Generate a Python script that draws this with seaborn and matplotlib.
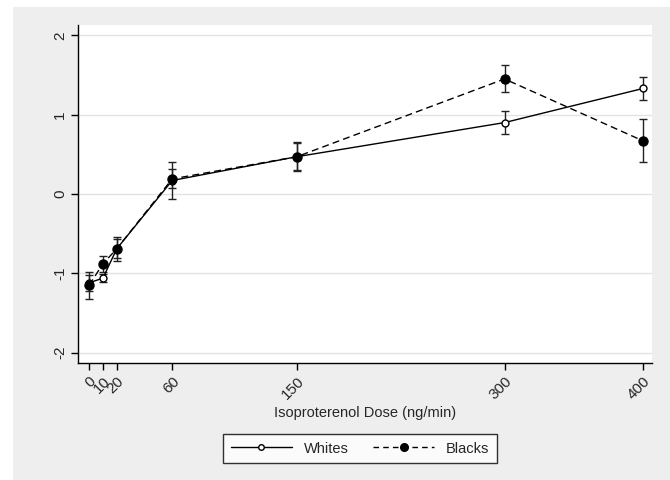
import pandas as pd
import matplotlib.pyplot as plt
import seaborn as sns
from matplotlib.patches import Rectangle
from matplotlib.lines import Line2D

# data
doses = [0, 10, 20, 60, 150, 300, 400]
whites = [-1.12, -1.06, -0.69, 0.17, 0.47, 0.90, 1.33]
whites_err = [0.10, 0.05, 0.12, 0.23, 0.17, 0.14, 0.14]
blacks = [-1.15, -0.88, -0.69, 0.19, 0.47, 1.45, 0.67]
blacks_err = [0.17, 0.10, 0.15, 0.12, 0.18, 0.17, 0.27]
yticks = [-2, -1, 0, 1, 2]

df = pd.DataFrame({
    "dose": doses * 2,
    "value": whites + blacks,
    "err": whites_err + blacks_err,
    "group": ["Whites"] * len(doses) + ["Blacks"] * len(doses),
})

sns.set_style("white")
plt.rcParams["font.family"] = ["Liberation Sans", "DejaVu Sans"]

fig = plt.figure(figsize=(6.7, 4.8), dpi=100)
fig.patch.set_facecolor("white")
# gray outer region like Stata graph region
fig.patches.append(Rectangle((13 / 670, 0), 1, 1 - 7 / 480, transform=fig.transFigure,
                             facecolor="#eeeeee", edgecolor="none", zorder=-10))

ax = fig.add_axes([78 / 670, 1 - 363 / 480, (652 - 78) / 670, (363 - 25) / 480])
ax.set_facecolor("white")

styles = {
    "Whites": dict(ls="-", mfc="white", ms=5),
    "Blacks": dict(ls=(0, (5, 3)), mfc="black", ms=6.5),
}

for name, st in styles.items():
    sub = df[df["group"] == name]
    sns.lineplot(x="dose", y="value", data=sub, ax=ax, color="black", linewidth=1,
                 linestyle=st["ls"], marker="o", markersize=st["ms"],
                 markerfacecolor=st["mfc"], markeredgecolor="black", markeredgewidth=1,
                 legend=False, zorder=3)
    ax.errorbar(sub["dose"], sub["value"], yerr=sub["err"], fmt="none",
                ecolor="#222222", elinewidth=1, capsize=3, capthick=1, zorder=2)

ax.set_xlim(-8, 406.5)
ax.set_ylim(-2.13, 2.13)
ax.set_xticks(doses)
ax.set_xticklabels([str(d) for d in doses], rotation=45, ha="right",
                   rotation_mode="anchor")
ax.set_yticks(yticks)
ax.set_yticklabels([str(t) for t in yticks], rotation=90, va="center")
ax.tick_params(axis="both", direction="out", length=5, width=1, color="black",
               left=True, bottom=True, pad=3, labelsize=11)
ax.grid(axis="y", color="#e3e3e3", linewidth=1)
ax.grid(axis="x", visible=False)
for side in ["top", "right"]:
    ax.spines[side].set_visible(False)
for side in ["left", "bottom"]:
    ax.spines[side].set_color("black")
    ax.spines[side].set_linewidth(1)

ax.set_xlabel("Isoproterenol Dose (ng/min)", fontsize=10.5, labelpad=3)
ax.set_ylabel("")

handles = [
    Line2D([], [], color="black", lw=1, ls="-", marker="o", ms=4,
           mfc="white", mec="black"),
    Line2D([], [], color="black", lw=1, ls=(0, (4, 3)), marker="o", ms=5.5,
           mfc="black", mec="black"),
]
leg = fig.legend(handles, ["Whites", "Blacks"], loc="upper center",
                 bbox_to_anchor=(360 / 670, 1 - 427 / 480), ncol=2, fontsize=10.5,
                 frameon=True, fancybox=False, handlelength=4.2, columnspacing=1.7,
                 borderpad=0.5)
leg.get_frame().set_edgecolor("black")
leg.get_frame().set_linewidth(1)

plt.savefig("out.png", dpi=100, facecolor=fig.get_facecolor())
